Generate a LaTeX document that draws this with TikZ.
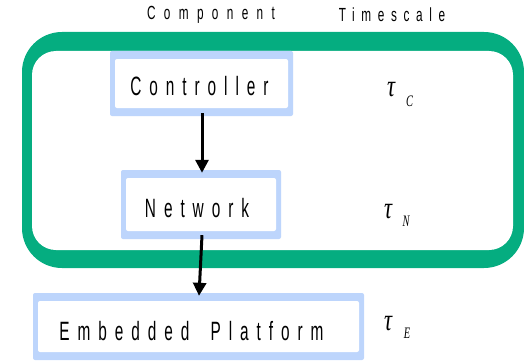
\documentclass[tikz,border=0pt]{standalone}
\usepackage{fontspec}
\setmainfont{Liberation Sans}
\newfontfamily\labfont[FakeStretch=0.58,LetterSpace=30]{Liberation Sans}
\newfontfamily\headfontA[FakeStretch=0.62,LetterSpace=44]{Liberation Sans}
\newfontfamily\headfontB[FakeStretch=0.62,LetterSpace=35]{Liberation Sans}
\newfontfamily\taufont[FakeStretch=0.72]{Liberation Serif}
\newfontfamily\subfont[FakeStretch=0.65]{Liberation Serif}
\usetikzlibrary{arrows.meta}
\definecolor{grn}{RGB}{5,173,128}
\definecolor{lblue}{RGB}{189,213,252}
\newcommand\offtext[3]{\raisebox{#2}[0pt][0pt]{\makebox[0pt]{\hspace*{#1}\hspace*{#1}#3}}}
\tikzset{
  compbox/.style={fill=lblue, rounded corners=2pt, inner sep=0pt,
    path picture={\fill[white] ([xshift=5pt,yshift=-8pt]path picture bounding box.north west) rectangle ([xshift=-5pt,yshift=8pt]path picture bounding box.south east);},
    font=\labfont\fontsize{26.5}{26.5}\selectfont},
  head/.style={inner sep=0pt},
  taulab/.style={inner sep=0pt, font=\taufont\itshape\fontsize{31}{31}\selectfont},
  sublab/.style={inner sep=0pt, font=\subfont\itshape\fontsize{16}{16}\selectfont},
  arr/.style={line width=3pt, -{Triangle[width=13pt,length=13pt]}}
}
\begin{document}
\begin{tikzpicture}[x=1pt,y=-1pt]
\useasboundingbox (0,0) rectangle (524,361);
% green enclosure
\fill[grn, rounded corners=40pt] (22,32) rectangle (524,268);
\fill[white, rounded corners=24pt] (32,51) rectangle (513,250);
% headers
\node[head, font=\headfontA\fontsize{19}{19}\selectfont] (hcomp) at (211,14.5) {Component};
\node[head, font=\headfontB\fontsize{19}{19}\selectfont] (htime) at (392,14.5) {Timescale};
% component boxes
\node[compbox, minimum width=183pt, minimum height=65pt] (ctrl) at (201.5,83.5) {\offtext{-2pt}{-12pt}{Controller}};
\node[compbox, minimum width=160pt, minimum height=69pt] (net) at (201,204.5) {\offtext{-4pt}{-13pt}{Network}};
\node[compbox, minimum width=331pt, minimum height=67pt] (emb) at (198.5,326.5) {\offtext{-7pt}{-14pt}{Embedded\hspace{9pt} Platform}};
% timescales
\node[taulab] (tauC) at (391,90) {τ};
\node[sublab] (subC) at (409.5,101) {C};
\node[taulab] (tauN) at (388,212) {τ};
\node[sublab] (subN) at (406,221) {N};
\node[taulab] (tauE) at (388,324) {τ};
\node[sublab] (subE) at (407,333) {E};
% connectors
\draw[arr] ([xshift=0.5pt,yshift=3pt]ctrl.south) -- ([xshift=1pt,yshift=-3pt]net.north);
\draw[arr] ([xshift=1pt,yshift=4pt]net.south) -- ([xshift=0.5pt,yshift=-3pt]emb.north);
\end{tikzpicture}
\end{document}
